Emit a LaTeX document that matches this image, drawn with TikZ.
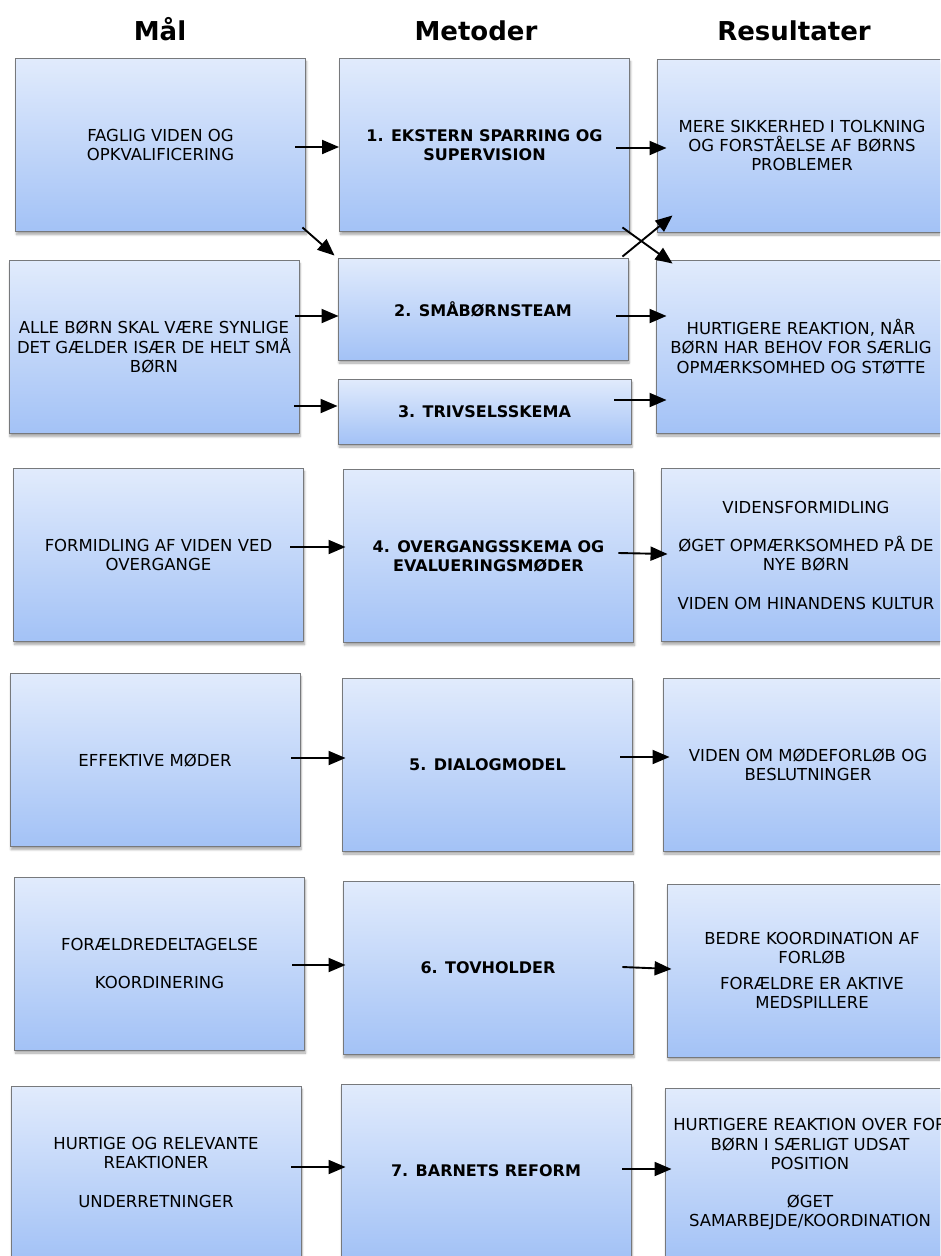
\documentclass[tikz,border=0pt]{standalone}
\usepackage{fontspec}
\setmainfont{DejaVu Sans}
\usetikzlibrary{arrows.meta, shadows.blur}
\definecolor{cTop}{HTML}{E1EBFC}
\definecolor{cBot}{HTML}{A3C2F6}
\definecolor{cEdge}{HTML}{77797C}

\begin{document}
\begin{tikzpicture}[
  x=1pt, y=1pt,
  box/.style={rectangle, draw=cEdge, line width=0.9pt, top color=cTop, bottom color=cBot,
    minimum width=290pt, minimum height=173pt, inner sep=0pt, align=center,
    font=\fontsize{16.5}{19.2}\selectfont,
    blur shadow={shadow xshift=1pt, shadow yshift=-3pt, shadow opacity=35, shadow blur steps=6}},
  mbox/.style={box, font=\fontsize{16}{19.2}\selectfont\bfseries},
  head/.style={font=\fontsize{26}{30}\selectfont\bfseries, anchor=base},
  ->, >={Triangle[length=17pt, width=14pt]}, line width=1.9pt
]
\useasboundingbox (0,0) rectangle (940,-1256);
\clip (0,0) rectangle (940,-1256);

% column heads
\node[head] (hG) at (160,-40) {Mål};
\node[head] (hM) at (476,-40) {Metoder};
\node[head] (hR) at (794,-40) {Resultater};

% goals
\node[box] (G1) at (160.5,-145) {FAGLIG VIDEN OG\\OPKVALIFICERING};
\node[box] (G2) at (154,-347) {ALLE BØRN SKAL VÆRE SYNLIGE\\DET GÆLDER ISÆR DE HELT SMÅ\\BØRN};
\node[box] (G3) at (158.5,-555) {FORMIDLING AF VIDEN VED\\OVERGANGE};
\node[box] (G4) at (155,-760) {EFFEKTIVE MØDER};
\node[box] (G5) at (159.5,-963.5) {FORÆLDREDELTAGELSE\\[19.2pt]KOORDINERING};
\node[box] (G6) at (156,-1172.5) {HURTIGE OG RELEVANTE\\REAKTIONER\\[19.2pt]UNDERRETNINGER};

% methods
\node[mbox] (M1) at (484.5,-145) {1. EKSTERN SPARRING OG\\SUPERVISION};
\node[mbox, minimum height=102pt] (M2) at (483,-309) {2. SMÅBØRNSTEAM};
\node[mbox, minimum height=65pt, minimum width=293pt] (M3) at (484.5,-411.5) {3. TRIVSELSSKEMA};
\node[mbox] (M4) at (488.5,-556) {4. OVERGANGSSKEMA OG\\EVALUERINGSMØDER};
\node[mbox] (M5) at (487.5,-764.5) {5. DIALOGMODEL};
\node[mbox] (M6) at (488,-968) {6. TOVHOLDER};
\node[mbox] (M7) at (486,-1170.5) {7. BARNETS REFORM};

% results
\node[box] (R1) at (802,-145.5) {MERE SIKKERHED I TOLKNING\\OG FORSTÅELSE AF BØRNS\\PROBLEMER};
\node[box] (R2) at (801,-346.5) {HURTIGERE REAKTION, NÅR\\BØRN HAR BEHOV FOR SÆRLIG\\OPMÆRKSOMHED OG STØTTE};
\node[box] (R3) at (806,-555) {VIDENSFORMIDLING\\[19.2pt]ØGET OPMÆRKSOMHED PÅ DE\\NYE BØRN\\[19.2pt]VIDEN OM HINANDENS KULTUR};
\node[box] (R4) at (808,-764.5) {VIDEN OM MØDEFORLØB OG\\BESLUTNINGER};
\node[box] (R5) at (812,-970.5) {BEDRE KOORDINATION AF\\FORLØB\\[7pt]FORÆLDRE ER AKTIVE\\MEDSPILLERE};
\node[box] (R6) at (810,-1174.5) {HURTIGERE REAKTION OVER FOR\\BØRN I SÆRLIGT UDSAT\\POSITION\\[19.2pt]ØGET\\SAMARBEJDE/KOORDINATION};

% connectors
\draw ([shift={(-10.5pt,-2pt)}]G1.east) -- ([shift={(0pt,-2pt)}]M1.west);
\draw ([shift={(-13.5pt,-3pt)}]M1.east) -- ([shift={(10pt,-2.5pt)}]R1.west);
\draw ([shift={(-3.5pt,4.5pt)}]G1.south east) -- ([shift={(-3pt,2pt)}]M2.north west);
\draw ([shift={(-7.5pt,4.5pt)}]M1.south east) -- ([shift={(17pt,-4pt)}]R2.north west);
\draw ([shift={(-6pt,1pt)}]M2.north east) -- ([shift={(16pt,17pt)}]R1.south west);
\draw ([shift={(-4pt,31pt)}]G2.east) -- ([shift={(1pt,-7pt)}]M2.west);
\draw ([shift={(-5pt,-59pt)}]G2.east) -- ([shift={(0pt,5.5pt)}]M3.west);
\draw ([shift={(-12pt,-7pt)}]M2.east) -- ([shift={(11pt,30.5pt)}]R2.west);
\draw ([shift={(-17pt,11.5pt)}]M3.east) -- ([shift={(11pt,-53.5pt)}]R2.west);
\draw ([shift={(-13.5pt,8pt)}]G3.east) -- ([shift={(2.5pt,9pt)}]M4.west);
\draw ([shift={(-15.5pt,3pt)}]M4.east) -- ([shift={(7pt,1pt)}]R3.west);
\draw ([shift={(-9pt,2pt)}]G4.east) -- ([shift={(3.5pt,6.5pt)}]M5.west);
\draw ([shift={(-12.5pt,7.5pt)}]M5.east) -- ([shift={(7pt,7.5pt)}]R4.west);
\draw ([shift={(-12.5pt,-1.5pt)}]G5.east) -- ([shift={(3pt,3pt)}]M6.west);
\draw ([shift={(-11pt,1pt)}]M6.east) -- ([shift={(5pt,1.5pt)}]R5.west);
\draw ([shift={(-10pt,5.5pt)}]G6.east) -- ([shift={(5pt,3.5pt)}]M7.west);
\draw ([shift={(-9pt,1.5pt)}]M7.east) -- ([shift={(7pt,5.5pt)}]R6.west);
\end{tikzpicture}
\end{document}
